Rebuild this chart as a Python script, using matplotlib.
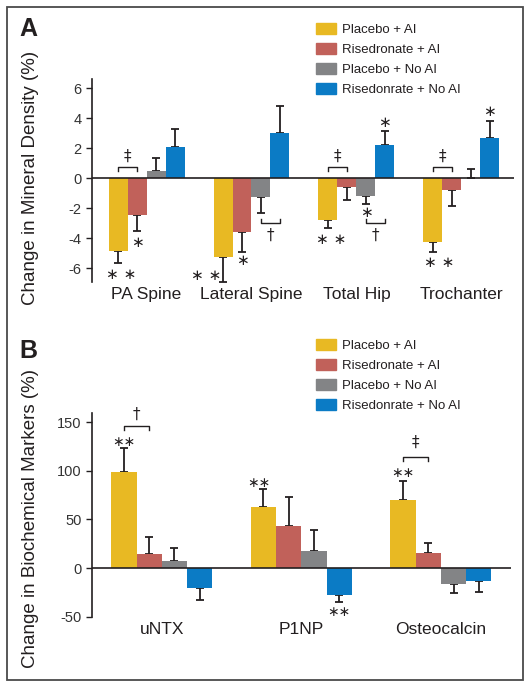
import numpy as np
import matplotlib
matplotlib.use('Agg')
import matplotlib.pyplot as plt
from matplotlib.patches import Patch, Rectangle

plt.rcParams['font.family'] = ['Liberation Sans', 'DejaVu Sans']
plt.rcParams['axes.unicode_minus'] = False

# ---- data ----
series_names = ['Placebo + AI', 'Risedronate + AI', 'Placebo + No AI', 'Risedonrate + No AI']
colors = ['#E8B923', '#C1615A', '#838486', '#0B7BC5']

# panel A: change in mineral density (%)
sites = ['PA Spine', 'Lateral Spine', 'Total Hip', 'Trochanter']
bmd_placebo_ai = [-4.83, -5.23, -2.80, -4.25]
bmd_rised_ai = [-2.45, -3.60, -0.58, -0.78]
bmd_placebo_noai = [0.50, -1.23, -1.18, 0.0]
bmd_rised_noai = [2.09, 3.00, 2.20, 2.71]
bmd_se_placebo_ai = [0.84, 1.66, 0.53, 0.68]
bmd_se_rised_ai = [1.06, 1.33, 0.87, 1.05]
bmd_se_placebo_noai = [0.88, 1.06, 0.53, 0.60]
bmd_se_rised_noai = [1.22, 1.82, 0.93, 1.11]

# panel B: change in biochemical markers (%)
markers = ['uNTX', 'P1NP', 'Osteocalcin']
bm_placebo_ai = [99.0, 62.7, 69.6]
bm_rised_ai = [14.4, 43.2, 15.4]
bm_placebo_noai = [7.2, 17.8, -16.4]
bm_rised_noai = [-20.2, -27.7, -13.0]
bm_se_placebo_ai = [24.0, 18.2, 19.8]
bm_se_rised_ai = [17.1, 30.1, 10.6]
bm_se_placebo_noai = [13.3, 21.2, 9.0]
bm_se_rised_noai = [12.7, 7.6, 11.4]

# significance marks: (group, bar, text, y, x shift)
marks_a = [(0, 0, '∗ ∗', -6.38, 0.03), (0, 1, '∗', -4.29, 0.0),
           (1, 0, '∗ ∗', -6.50, -0.16), (1, 1, '∗', -5.45, 0.0),
           (2, 0, '∗ ∗', -4.05, 0.03), (2, 2, '∗', -2.29, 0.0), (2, 3, '∗', 3.73, 0.0),
           (3, 0, '∗ ∗', -5.63, 0.06), (3, 3, '∗', 4.44, 0.0)]
# brackets: (group, bar1, bar2, y, tick end, symbol, symbol y)
brackets_a = [(0, 0, 1, 0.73, 0.48, '‡', 1.45),
              (1, 2, 3, -2.96, -2.70, '†', -3.78),
              (2, 0, 1, 0.73, 0.48, '‡', 1.49),
              (2, 2, 3, -2.98, -2.72, '†', -3.78),
              (3, 0, 1, 0.73, 0.48, '‡', 1.49)]
marks_b = [(0, 0, '∗∗', 129.8, 0.0), (1, 0, '∗∗', 87.7, -0.03),
           (1, 3, '∗∗', -44.9, 0.0), (2, 0, '∗∗', 97.3, 0.0)]
brackets_b = [(0, 0, 1, 146.0, 141.8, '†', 158.0),
              (2, 0, 1, 114.4, 110.0, '‡', 128.8)]

txt = '#231F20'
W = 0.181


def panel(ax, cats, vals, ses, ylim, yticks, ylabel, marks, brackets, xlim,
          mark_size, leg_anchor, letter, label_xy):
    x = np.arange(len(cats))
    for i, (v, s) in enumerate(zip(vals, ses)):
        v = np.array(v)
        s = np.array(s)
        pos = x + (i - 1.5) * W
        ax.bar(pos, v, W, color=colors[i], label=series_names[i], zorder=2)
        up = np.where(v >= 0, s, 0)
        dn = np.where(v >= 0, 0, s)
        ax.errorbar(pos, v, yerr=[dn, up], fmt='none', ecolor='#231F20',
                    elinewidth=1.3, capsize=3.2, capthick=1.3, zorder=1)
    ax.axhline(0, color='#231F20', lw=1.2, zorder=3)
    ax.set_xlim(xlim)
    ax.set_ylim(ylim)
    ax.set_yticks(yticks)
    ax.set_xticks(x)
    ax.set_xticklabels(cats, fontsize=12.5, color=txt)
    ax.tick_params(axis='x', length=0, pad=4)
    ax.tick_params(axis='y', length=4, width=1, labelsize=10.5, labelcolor='#333333', color='#231F20')
    for s in ['top', 'right', 'bottom']:
        ax.spines[s].set_visible(False)
    ax.spines['left'].set_linewidth(1.2)
    ax.spines['left'].set_color('#231F20')
    ax.set_ylabel(ylabel, fontsize=13.5, color=txt)
    ax.yaxis.set_label_coords(*label_xy)

    for g, b, t, y, dx in marks:
        ax.text(g + (b - 1.5) * W + dx, y, t, ha='center', va='center',
                fontsize=mark_size, color=txt, family='DejaVu Sans')
    for g, b1, b2, y, yt, sym, ys in brackets:
        x1 = g + (b1 - 1.5) * W
        x2 = g + (b2 - 1.5) * W
        ax.plot([x1, x1, x2, x2], [yt, y, y, yt], color=txt, lw=1.0)
        ax.text((x1 + x2) / 2, ys, sym, ha='center', va='center',
                fontsize=11, color=txt, family='DejaVu Sans')

    handles = [Patch(color=c) for c in colors]
    ax.figure.legend(handles, series_names, loc='upper left', bbox_to_anchor=leg_anchor,
                     frameon=False, fontsize=9.5, handlelength=1.5, handleheight=0.85,
                     handletextpad=0.5, labelspacing=0.55, borderpad=0, borderaxespad=0,
                     labelcolor=txt)
    ax.figure.text(letter[0], letter[1], letter[2], fontsize=18, fontweight='bold',
                   ha='center', va='center', color=txt)


fig = plt.figure(figsize=(5.32, 6.87), dpi=100)

axA = fig.add_axes([0.1729, 0.5898, 0.793, 0.2948])
panel(axA, sites,
      [bmd_placebo_ai, bmd_rised_ai, bmd_placebo_noai, bmd_rised_noai],
      [bmd_se_placebo_ai, bmd_se_rised_ai, bmd_se_placebo_noai, bmd_se_rised_noai],
      (-6.9, 6.6), [-6, -4, -2, 0, 2, 4, 6], 'Change in Mineral Density (%)',
      marks_a, brackets_a, (-0.52, 3.5), 11,
      (316 / 532, 1 - 23 / 687), (28 / 532, 1 - 29 / 687, 'A'), (-0.125, 0.515))

axB = fig.add_axes([0.1729, 0.1024, 0.787, 0.2960])
panel(axB, markers,
      [bm_placebo_ai, bm_rised_ai, bm_placebo_noai, bm_rised_noai],
      [bm_se_placebo_ai, bm_se_rised_ai, bm_se_placebo_noai, bm_se_rised_noai],
      (-50, 159), [-50, 0, 50, 100, 150], 'Change in Biochemical Markers (%)',
      marks_b, brackets_b, (-0.5, 2.5), 10,
      (316 / 532, 1 - 339 / 687), (28 / 532, 1 - 351 / 687, 'B'), (-0.126, 0.483))

# outer frame
fig.patches.append(Rectangle((7 / 532, 1 - 680 / 687), 516 / 532, 673 / 687,
                             transform=fig.transFigure, fill=False,
                             edgecolor='#4A4A4A', lw=1.3))

fig.savefig('out.png', dpi=100)
